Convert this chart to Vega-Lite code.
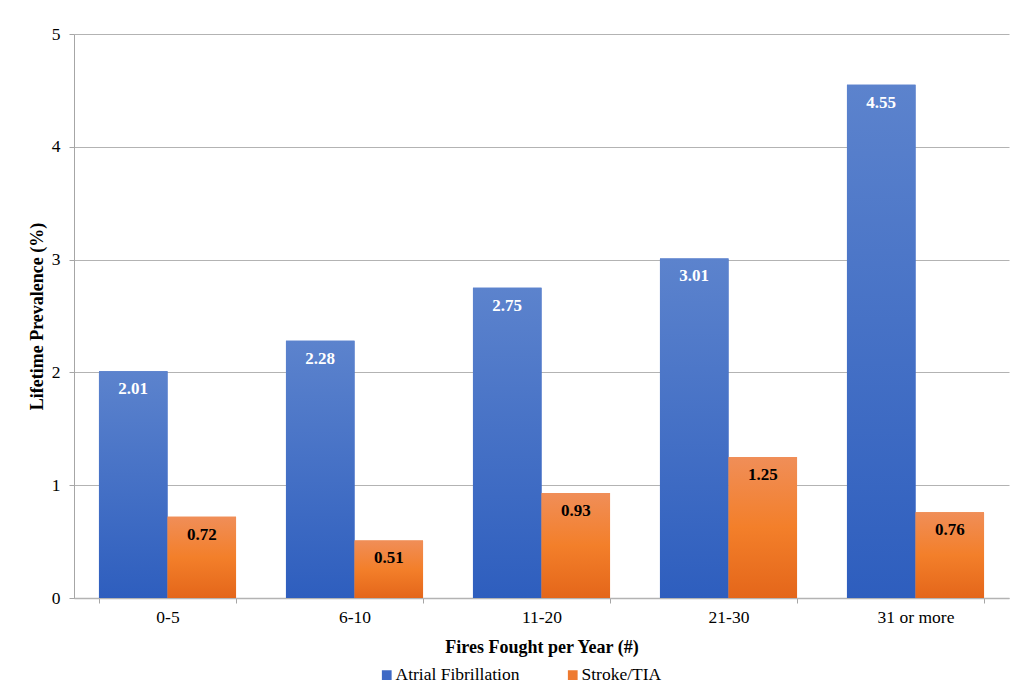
{
  "$schema": "https://vega.github.io/schema/vega-lite/v6.json",
  "width": 935,
  "height": 564,
  "autosize": {"type": "none"},
  "padding": {"left": 74, "top": 34, "right": 10, "bottom": 99},
  "background": "white",
  "config": {
    "view": {"stroke": null},
    "font": "Liberation Serif"
  },
  "data": {
    "values": [
      {"fires": "0-5", "series": "Atrial Fibrillation", "value": 2.01},
      {"fires": "0-5", "series": "Stroke/TIA", "value": 0.72},
      {"fires": "6-10", "series": "Atrial Fibrillation", "value": 2.28},
      {"fires": "6-10", "series": "Stroke/TIA", "value": 0.51},
      {"fires": "11-20", "series": "Atrial Fibrillation", "value": 2.75},
      {"fires": "11-20", "series": "Stroke/TIA", "value": 0.93},
      {"fires": "21-30", "series": "Atrial Fibrillation", "value": 3.01},
      {"fires": "21-30", "series": "Stroke/TIA", "value": 1.25},
      {"fires": "31 or more", "series": "Atrial Fibrillation", "value": 4.55},
      {"fires": "31 or more", "series": "Stroke/TIA", "value": 0.76}
    ]
  },
  "encoding": {
    "x": {
      "field": "fires",
      "type": "nominal",
      "sort": ["0-5", "6-10", "11-20", "21-30", "31 or more"],
      "scale": {"paddingInner": 0.267, "paddingOuter": 0.1335},
      "title": "Fires Fought per Year (#)",
      "axis": {
        "labelAngle": 0,
        "labelFont": "Liberation Serif",
        "labelFontSize": 17.5,
        "labelColor": "black",
        "labelPadding": 5,
        "tickBand": "extent",
        "tickSize": 5,
        "tickColor": "#a6a6a6",
        "domainColor": "#b3b3b3",
        "domainWidth": 1.5,
        "titleFont": "Liberation Serif",
        "titleFontSize": 18,
        "titleFontWeight": "bold",
        "titleColor": "black",
        "titlePadding": 13
      }
    },
    "xOffset": {"field": "series", "type": "nominal", "sort": ["Atrial Fibrillation", "Stroke/TIA"]},
    "y": {
      "field": "value",
      "type": "quantitative",
      "scale": {"domain": [0, 5]},
      "title": "Lifetime Prevalence (%)",
      "axis": {
        "values": [0, 1, 2, 3, 4, 5],
        "labelFont": "Liberation Serif",
        "labelFontSize": 17.5,
        "labelColor": "black",
        "labelPadding": 9,
        "tickSize": 5,
        "tickColor": "#a6a6a6",
        "domainColor": "#a6a6a6",
        "gridColor": "#b3b3b3",
        "gridWidth": 1.2,
        "titleFont": "Liberation Serif",
        "titleFontSize": 18,
        "titleFontWeight": "bold",
        "titleColor": "black",
        "titlePadding": 5
      }
    }
  },
  "layer": [
    {
      "mark": {"type": "bar"},
      "encoding": {
        "color": {
          "field": "series",
          "type": "nominal",
          "scale": {"domain": ["Atrial Fibrillation", "Stroke/TIA"], "range": ["#3E69C5", "#EE7A30"]},
          "legend": {
            "title": null,
            "orient": "none",
            "legendX": 304,
            "legendY": 632,
            "direction": "horizontal",
            "symbolType": "square",
            "symbolSize": 95,
            "symbolStrokeWidth": 0,
            "labelFont": "Liberation Serif",
            "labelFontSize": 17.5,
            "labelColor": "black",
            "labelOffset": 0,
            "columnPadding": 44
          }
        }
      }
    },
    {
      "transform": [{"filter": "datum.series === 'Atrial Fibrillation'"}],
      "mark": {
        "type": "bar",
        "fill": {"gradient": "linear", "x1": 0, "y1": 0, "x2": 0, "y2": 1,
          "stops": [{"offset": 0, "color": "#5C83CD"}, {"offset": 1, "color": "#2E5EBE"}]}
      }
    },
    {
      "transform": [{"filter": "datum.series === 'Stroke/TIA'"}],
      "mark": {
        "type": "bar",
        "fill": {"gradient": "linear", "x1": 0, "y1": 0, "x2": 0, "y2": 1,
          "stops": [{"offset": 0, "color": "#F08E58"}, {"offset": 0.5, "color": "#F37F2A"}, {"offset": 1, "color": "#E4661A"}]}
      }
    },
    {
      "mark": {"type": "text", "baseline": "middle", "align": "center", "dy": 18, "font": "Liberation Serif", "fontSize": 17, "fontWeight": "bold"},
      "encoding": {
        "text": {"field": "value", "type": "quantitative", "format": ".2f"},
        "color": {"condition": {"test": "datum.series === 'Atrial Fibrillation'", "value": "white"}, "value": "black"}
      }
    }
  ]
}
